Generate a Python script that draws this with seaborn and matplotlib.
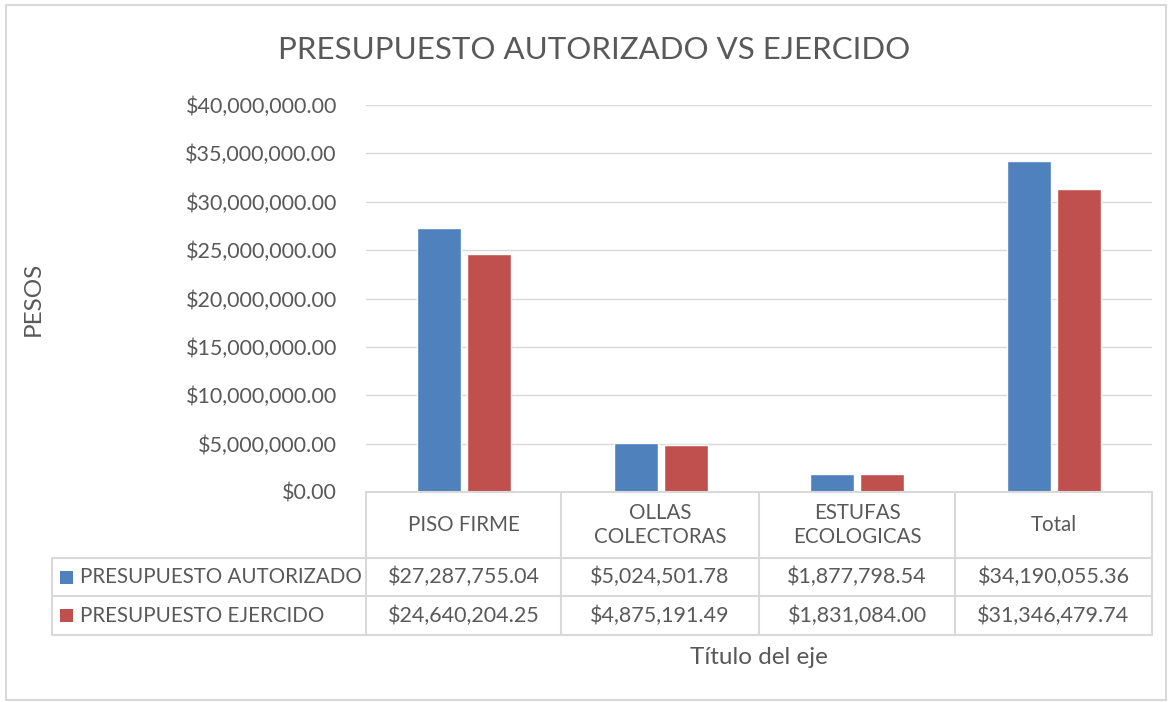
import pandas as pd
import matplotlib.pyplot as plt
import seaborn as sns
from matplotlib.lines import Line2D
from matplotlib.patches import Rectangle

# Datos del gráfico
categorias = ['PISO FIRME', 'OLLAS\nCOLECTORAS', 'ESTUFAS\nECOLOGICAS', 'Total']
series = ['PRESUPUESTO AUTORIZADO', 'PRESUPUESTO EJERCIDO']
autorizado = [27287755.04, 5024501.78, 1877798.54, 34190055.36]
ejercido = [24640204.25, 4875191.49, 1831084.00, 31346479.74]
colores = ['#4F81BD', '#C0504D']
y_ticks = [0, 5e6, 10e6, 15e6, 20e6, 25e6, 30e6, 35e6, 40e6]

df = pd.DataFrame({
    'categoria': categorias * 2,
    'serie': [series[0]] * 4 + [series[1]] * 4,
    'monto': autorizado + ejercido,
})

sns.set_style("white")
plt.rcParams['font.family'] = ['Lato', 'DejaVu Sans']
gris = '#595959'
linea = '#D9D9D9'

W, H = 1172, 702
fig = plt.figure(figsize=(W / 100, H / 100), dpi=100)

# conversión de pixeles a fracción de figura
def fx(px):
    return px / W

def fy(py):
    return 1 - py / H

x0, x1, y_top, y_bot = 366, 1152, 105, 492
ax = fig.add_axes([fx(x0), fy(y_bot), fx(x1) - fx(x0), fy(y_top) - fy(y_bot)])

sns.barplot(data=df, x='categoria', y='monto', hue='serie', palette=colores,
            width=0.51, gap=0.12, ax=ax, legend=False, saturation=1)
ax.set_xlim(-0.5, 3.5)
ax.set_ylim(0, 40e6)
ax.set_yticks(y_ticks)
ax.set_yticklabels([f'${v:,.2f}' for v in y_ticks], fontsize=15.5, color=gris)
ax.tick_params(axis='y', length=0, pad=21)
ax.set_xticks([])
ax.set_xlabel('')
ax.set_ylabel('')
ax.grid(axis='y', color=linea, linewidth=1)
ax.set_axisbelow(True)
for s in ax.spines.values():
    s.set_visible(False)

# Título y etiquetas de ejes
fig.text(fx(594), fy(50), 'PRESUPUESTO AUTORIZADO VS EJERCIDO', ha='center', va='center',
         fontsize=22.5, color=gris)
fig.text(fx(33), fy(299), 'PESOS', rotation=90, ha='center', va='center', fontsize=17.5, color=gris)
fig.text(fx(759), fy(658), 'Título del eje', ha='center', va='center', fontsize=17.5, color=gris)

# Tabla de datos
col_x = [366, 561, 759, 955, 1152]
row_y = [492, 558, 596, 635]
tabla_izq = 52
txt = 14.8
num = 15.5

def hline(y, xa, xb):
    fig.add_artist(Line2D([fx(xa), fx(xb)], [fy(y), fy(y)], color=linea, lw=1.5))

def vline(x, ya, yb):
    fig.add_artist(Line2D([fx(x), fx(x)], [fy(ya), fy(yb)], color=linea, lw=1.5))

hline(row_y[0], col_x[0], col_x[-1])
for y in row_y[1:]:
    hline(y, tabla_izq, col_x[-1])
for x in col_x:
    vline(x, row_y[0], row_y[-1])
vline(tabla_izq, row_y[1], row_y[-1])

for i, cat in enumerate(categorias):
    cx = (col_x[i] + col_x[i + 1]) / 2
    fig.text(fx(cx), fy((row_y[0] + row_y[1]) / 2), cat, ha='center', va='center',
             fontsize=txt, color=gris, linespacing=1.25)

for r, (nombre, valores, color) in enumerate(zip(series, [autorizado, ejercido], colores)):
    cy = (row_y[r + 1] + row_y[r + 2]) / 2
    fig.add_artist(Rectangle((fx(60), fy(cy + 6.5)), fx(13), fy(0) - fy(13),
                             facecolor=color, edgecolor='none', transform=fig.transFigure))
    fig.text(fx(80), fy(cy), nombre, ha='left', va='center', fontsize=txt, color=gris)
    for i, v in enumerate(valores):
        cx = (col_x[i] + col_x[i + 1]) / 2
        fig.text(fx(cx), fy(cy), f'${v:,.2f}', ha='center', va='center', fontsize=num, color=gris)

# Borde del gráfico
fig.add_artist(Rectangle((fx(6), fy(700)), fx(1166) - fx(6), fy(5) - fy(700), fill=False,
                         edgecolor=linea, lw=1.5, transform=fig.transFigure))

plt.savefig('out.png', dpi=100)
